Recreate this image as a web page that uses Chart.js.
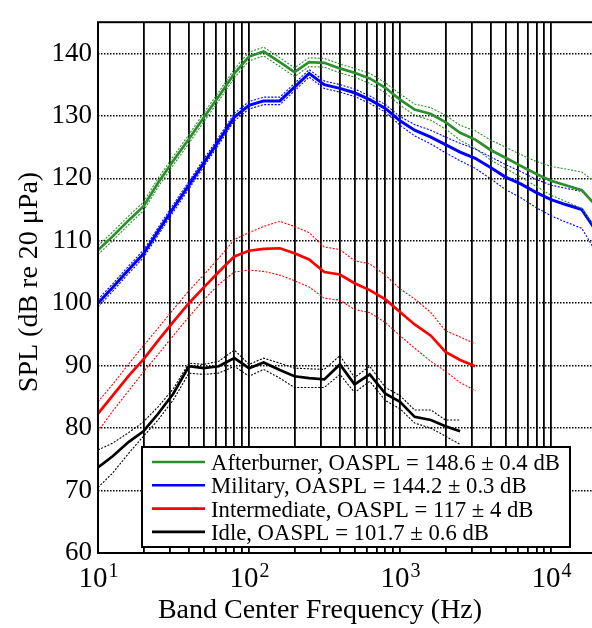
<!DOCTYPE html>
<html><head><meta charset="utf-8">
<script src="https://cdn.jsdelivr.net/npm/chart.js@4"></script>
<style>
html,body{margin:0;padding:0;background:#fff;overflow:hidden}
#wrap{width:592px;height:628px;overflow:hidden;position:relative;background:#fff}
canvas{display:block}
</style></head><body>
<div id="wrap"><canvas id="c" width="600" height="628" style="width:600px;height:628px"></canvas></div>
<script>
// ---- data ----
const bands = [10,12.5,16,20,25,31.5,40,50,63,80,100,125,160,200,250,315,400,500,630,800,1000,1250,1600,2000,2500,3150,4000,5000,6300,8000,10000,12500,16000,20000];

const abMean = [108.5,110.7,113.3,115.5,119.3,122.8,126.3,129.7,133.1,136.8,139.5,140.3,138.6,137.0,138.6,138.5,137.6,136.9,136.0,134.5,132.6,131.0,130.3,129.0,127.3,126.2,124.5,123.3,122.0,120.7,119.6,118.9,118.1,115.5];
const abHi   = [109.2,111.4,114.0,116.2,120.0,123.5,127.0,130.4,133.8,137.5,140.2,141.0,139.3,137.7,139.3,139.2,138.3,137.6,136.8,135.3,133.5,131.9,131.3,130.1,128.5,127.6,126.1,125.0,123.8,122.7,121.9,121.5,121.0,119.2];
const abLo   = [107.8,110.0,112.6,114.8,118.6,122.1,125.6,129.0,132.4,136.1,138.8,139.6,137.9,136.3,137.9,137.8,136.9,136.2,135.2,133.7,131.7,130.1,129.3,127.9,126.1,124.8,122.9,121.6,120.2,118.7,117.3,116.3,115.2,111.8];

const milMean = [100.0,102.5,105.4,107.9,111.5,115.2,118.9,122.4,126.0,129.8,131.7,132.4,132.4,134.6,136.8,135.0,134.4,133.7,132.6,131.2,129.2,127.7,126.6,125.4,124.2,123.2,121.7,120.2,119.1,117.7,116.6,115.8,115.0,111.5];
const milHi   = [100.6,103.1,106.0,108.5,112.1,115.8,119.5,123.0,126.6,130.4,132.3,133.0,133.0,135.2,137.4,135.6,135.0,134.3,133.2,131.8,129.9,128.6,127.7,126.6,125.6,124.7,123.4,122.2,121.1,119.8,118.9,118.4,117.9,115.5];
const milLo   = [99.4,101.9,104.8,107.3,110.9,114.6,118.3,121.8,125.4,129.2,131.1,131.8,131.8,134.0,136.2,134.4,133.8,133.1,132.0,130.6,128.5,126.8,125.5,124.1,122.8,121.6,119.9,118.2,116.9,115.3,114.0,113.0,112.0,108.0];

const intMean = [82.3,85.2,88.4,91.0,94.0,97.0,100.0,102.5,105.0,107.5,108.4,108.7,108.8,108.0,107.0,105.0,104.6,103.2,102.1,100.6,98.6,96.6,94.8,92.2,90.9,89.9];
const intHi   = [84.2,87.0,90.3,93.2,96.0,99.0,102.0,104.5,107.2,110.2,111.3,112.3,113.1,112.3,111.3,109.0,108.6,106.8,106.3,104.5,102.3,100.7,98.5,95.6,94.6,93.5];
const intLo   = [79.5,82.7,86.0,89.0,91.8,94.8,97.8,100.5,103.0,105.0,105.3,105.1,104.5,103.6,102.6,100.8,100.5,99.0,98.5,96.9,94.8,92.8,90.7,89.1,87.3,86.0];

const idleMean = [73.7,75.5,77.8,79.5,82.3,85.5,89.9,89.6,89.9,91.2,89.6,90.5,89.3,88.3,88.0,87.8,90.2,87.0,88.6,85.5,84.2,81.8,81.3,80.3,79.5];
const idleHi   = [76.5,77.6,79.3,81.0,83.4,86.3,90.4,90.2,90.7,92.5,90.2,91.2,90.4,89.6,89.5,89.4,91.6,88.1,89.9,86.5,85.2,82.9,82.9,81.3,81.3];
const idleLo   = [70.5,72.8,76.0,78.7,81.3,84.5,88.8,88.6,88.8,89.9,88.3,89.4,88.0,86.5,86.5,86.5,88.6,85.7,87.5,84.4,83.1,80.8,80.0,78.7,77.4];

const seriesNames = ['Afterburner, OASPL = 148.6 \u00b1 0.4 dB','Military, OASPL = 144.2 \u00b1 0.3 dB','Intermediate, OASPL = 117 \u00b1 4 dB','Idle, OASPL = 101.7 \u00b1 0.6 dB'];
const seriesColors = ['#2b8f2b','#0000ff','#ff0000','#000000'];

const xGridTicks = [10,20,30,40,50,60,70,80,90,100,200,300,400,500,600,700,800,900,1000,2000,3000,4000,5000,6000,7000,8000,9000,10000];
const xDecades = [10,100,1000,10000];
const xTickBase = '10';
const xTickExps = ['1','2','3','4'];
const yTicks = [60,70,80,90,100,110,120,130,140];
const xTitle = 'Band Center Frequency (Hz)';
const yTitle = 'SPL (dB re 20 \u03bcPa)';

// ---- build datasets ----
function pts(vals){ return vals.map((v,i)=>({x:bands[i], y:v})); }
const groups = [[abMean,abHi,abLo],[milMean,milHi,milLo],[intMean,intHi,intLo],[idleMean,idleHi,idleLo]];
const datasets = [];
groups.forEach((g,k)=>{
  const col = seriesColors[k];
  [g[1],g[2]].forEach(b=>datasets.push({data:pts(b),borderColor:col,borderWidth:1.1,borderDash:[2,1.5],pointRadius:0,tension:0,fill:false}));
  datasets.push({label:seriesNames[k],data:pts(g[0]),borderColor:col,borderWidth:k===1?3:2.7,pointRadius:0,tension:0,fill:false});
});

const FONT = "'Liberation Serif','Times New Roman',serif";

const deco = {
  id:'deco',
  afterDatasetsDraw(chart){
    const ctx = chart.ctx, a = chart.chartArea, xs = chart.scales.x;
    ctx.save();
    // frame
    ctx.strokeStyle='#000'; ctx.lineWidth=2; ctx.setLineDash([]);
    ctx.strokeRect(a.left, a.top, a.right-a.left, a.bottom-a.top);
    // x tick labels with superscripts
    ctx.fillStyle='#000'; ctx.textBaseline='alphabetic';
    xDecades.forEach((d,i)=>{
      const px = xs.getPixelForValue(d);
      ctx.font = '29px '+FONT; const wb = ctx.measureText(xTickBase).width;
      ctx.font = '20px '+FONT; const we = ctx.measureText(xTickExps[i]).width;
      const left = px - (wb+we)/2;
      ctx.font = '29px '+FONT; ctx.textAlign='left';
      ctx.fillText(xTickBase, left, 587);
      ctx.font = '20px '+FONT;
      ctx.fillText(xTickExps[i], left+wb+1, 577);
    });
    // axis titles
    ctx.font = '28px '+FONT; ctx.textAlign='center';
    ctx.fillText(xTitle, 320, 618);
    ctx.save();
    ctx.translate(37, 282); ctx.rotate(-Math.PI/2);
    ctx.fillText(yTitle, 0, 0);
    ctx.restore();
    // legend
    const L=142, T=447, R=570, B=547;
    ctx.fillStyle='#fff'; ctx.fillRect(L,T,R-L,B-T);
    ctx.strokeStyle='#000'; ctx.lineWidth=2; ctx.strokeRect(L,T,R-L,B-T);
    ctx.font = '22.7px '+FONT; ctx.textAlign='left'; ctx.fillStyle='#000';
    seriesNames.forEach((n,i)=>{
      const base = 470 + i*23.3;
      ctx.strokeStyle = seriesColors[i]; ctx.lineWidth = 2.6;
      ctx.beginPath(); ctx.moveTo(152, base-8); ctx.lineTo(205, base-8); ctx.stroke();
      ctx.fillText(n, 211, base);
    });
    ctx.restore();
  }
};

new Chart(document.getElementById('c'), {
  type:'line',
  data:{datasets},
  options:{
    responsive:false, animation:false, devicePixelRatio:1,
    layout:{padding:{left:0,top:9,right:3.5,bottom:0}},
    plugins:{legend:{display:false}, tooltip:{enabled:false}},
    scales:{
      x:{type:'logarithmic', min:10, max:20000,
         afterBuildTicks(s){ s.ticks = xGridTicks.map(v=>({value:v})); },
         afterFit(s){ s.height = 75; },
         ticks:{display:false},
         grid:{color:'#000', lineWidth:1.8, drawTicks:false},
         border:{display:false}},
      y:{type:'linear', min:60, max:145,
         afterBuildTicks(s){ s.ticks = yTicks.map(v=>({value:v})); },
         afterFit(s){ s.width = 98; },
         ticks:{color:'#000', font:{family:FONT, size:27}, padding:6},
         grid:{color:'#000', lineWidth:1.5, drawTicks:false},
         border:{display:false, dash:[1.5,1.5]}}
    }
  },
  plugins:[deco]
});
</script>
</body></html>
